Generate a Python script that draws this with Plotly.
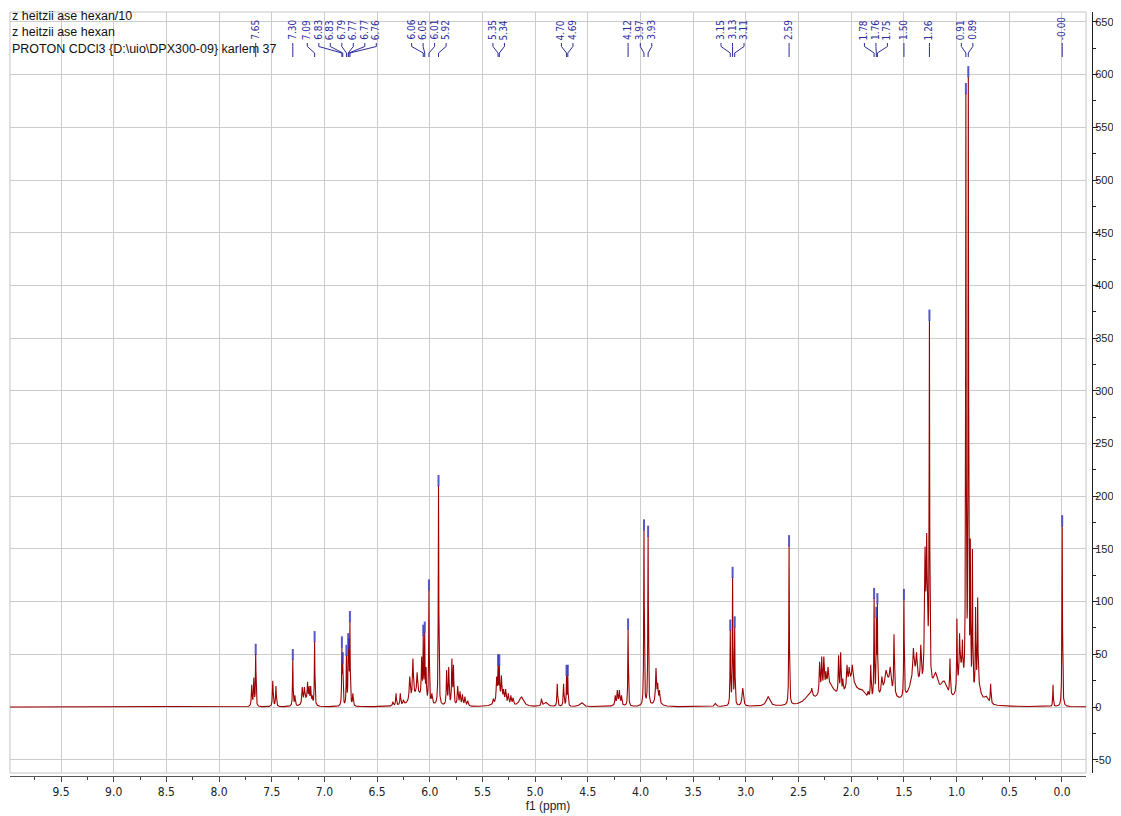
import numpy as np
import plotly.graph_objects as go

# ---------------- data ----------------
title_lines = [
    "z heitzii ase hexan/10",
    "z heitzii ase hexan",
    "PROTON CDCl3 {D:\\uio\\DPX300-09} karlem 37",
]

# sharp lines: position (ppm), apex intensity, half width (ppm)
peak_ppm = [7.690, 7.670, 7.652, 7.490, 7.460, 7.300, 7.280, 7.210, 7.190, 7.160, 7.145, 7.130, 7.115, 7.093,
            6.834, 6.826, 6.791, 6.774, 6.768, 6.758, 6.730,
            6.350, 6.320, 6.280, 6.250, 6.190, 6.160, 6.120, 6.077, 6.062, 6.048, 6.035, 6.008, 5.980, 5.917,
            5.840, 5.820, 5.790, 5.775, 5.735, 5.713, 5.690, 5.666, 5.640,
            5.397, 5.365, 5.352, 5.340, 5.320, 5.300, 5.280, 5.255, 5.230, 5.210,
            4.940, 4.790, 4.730, 4.702, 4.690,
            4.240, 4.220, 4.200, 4.180, 4.118, 3.967, 3.928, 3.853, 3.837, 3.820,
            3.148, 3.126, 3.106, 3.030, 2.590,
            2.375, 2.300, 2.280, 2.260, 2.240, 2.220, 2.155, 2.120, 2.100, 2.080, 2.040, 2.020, 1.990,
            1.840, 1.815, 1.783, 1.762, 1.752, 1.710, 1.670, 1.630, 1.594, 1.500,
            1.410, 1.380, 1.340, 1.300, 1.284, 1.258,
            1.063, 0.997, 0.972, 0.945, 0.912, 0.889, 0.870, 0.850, 0.820, 0.800, 0.677,
            0.085, -0.002]
peak_height = [21, 28, 50, 25, 20, 45, 11, 19, 19, 24, 20, 20, 11, 62,
               57, 42, 49, 60, 55, 81, 13,
               5, 13, 13, 7, 29, 46, 33, 48, 68, 71, 38, 111, 13, 210,
               35, 38, 46, 40, 20, 15, 12, 10, 6,
               8, 29, 40, 40, 30, 17, 17, 13, 11, 9,
               8, 22, 22, 30, 30,
               11, 16, 16, 11, 74, 168, 162, 37, 23, 16,
               73, 123, 76, 18, 153,
               18, 43, 48, 48, 34, 38, 16, 49, 52, 27, 40, 38, 40,
               15, 40, 103, 85, 98, 29, 35, 38, 69, 102,
               56, 52, 59, 152, 165, 367,
               46, 84, 70, 64, 582, 598, 160, 150, 95, 104, 22,
               21, 172]
peak_width = [.004, .004, .003, .004, .004, .003, .004, .005, .005, .004, .004, .004, .004, .003,
              .003, .003, .003, .003, .003, .003, .004,
              .005, .004, .004, .005, .006, .005, .005, .004, .003, .003, .003, .003, .005, .003,
              .004, .004, .004, .004, .005, .005, .005, .005, .006,
              .005, .005, .003, .003, .004, .005, .005, .005, .005, .005,
              .005, .004, .004, .003, .003,
              .004, .004, .004, .004, .003, .003, .003, .005, .004, .004,
              .003, .003, .003, .008, .003,
              .006, .005, .004, .004, .004, .004, .006, .004, .004, .004, .005, .005, .006,
              .006, .004, .003, .003, .003, .006, .008, .008, .004, .003,
              .006, .006, .006, .006, .005, .003,
              .004, .003, .004, .004, .003, .003, .003, .003, .003, .003, .004,
              .003, .003]

# broad humps under the multiplets: position (ppm), amplitude, half width (ppm)
hump_ppm = [7.17, 6.12, 5.33, 5.13, 4.90, 4.56, 4.21, 3.84, 3.29, 2.79, 2.40, 2.22, 2.00, 1.90,
            1.66, 1.40, 1.28, 1.20, 1.12, 0.96, 0.80, 0.72]
hump_amp = [6, 12, 8, 9, 4, 4, 4, 6, 3, 9, 8, 20, 22, 8,
            22, 28, 40, 22, 18, 30, 20, 6]
hump_width = [0.03, 0.06, 0.04, 0.025, 0.02, 0.02, 0.03, 0.03, 0.01, 0.02, 0.05, 0.07, 0.06, 0.04,
              0.05, 0.05, 0.02, 0.03, 0.04, 0.03, 0.03, 0.02]

# annotated peaks (ppm)
label_ppm = [7.652, 7.300, 7.093, 6.834, 6.826, 6.791, 6.774, 6.768, 6.758,
             6.062, 6.048, 6.008, 5.917, 5.352, 5.340, 4.702, 4.690,
             4.118, 3.967, 3.928, 3.148, 3.126, 3.106, 2.590,
             1.783, 1.762, 1.752, 1.500, 1.258, 0.912, 0.889, -0.002]

x_tick_vals = [9.5, 9.0, 8.5, 8.0, 7.5, 7.0, 6.5, 6.0, 5.5, 5.0, 4.5, 4.0, 3.5, 3.0, 2.5, 2.0, 1.5, 1.0, 0.5, 0.0]
x_tick_text = ["9.5", "9.0", "8.5", "8.0", "7.5", "7.0", "6.5", "6.0", "5.5", "5.0", "4.5", "4.0",
               "3.5", "3.0", "2.5", "2.0", "1.5", "1.0", "0.5", "0.0"]
y_tick_vals = [-50, 0, 50, 100, 150, 200, 250, 300, 350, 400, 450, 500, 550, 600, 650]
y_tick_text = ["-50", "0", "50", "100", "150", "200", "250", "300", "350", "400", "450", "500",
               "550", "600", "650"]

X_RANGE = [9.984, -0.228]
Y_RANGE = [-62.6, 659.4]

# ---------------- spectrum from the peak list ----------------
def lor(x, c, w):
    return w ** 2 / ((x - c) ** 2 + w ** 2)

P = np.array(peak_ppm)
T = np.array(peak_height, dtype=float)
W = np.array(peak_width)
HP = np.array(hump_ppm)
HA = np.array(hump_amp, dtype=float)
HW = np.array(hump_width)

bg_at_peaks = (HA[None, :] * lor(P[:, None], HP[None, :], HW[None, :])).sum(axis=1)
M = lor(P[:, None], P[None, :], W[None, :])
np.fill_diagonal(M, 0.0)
amp = np.clip(T - bg_at_peaks, 0, None)
for _ in range(3000):
    new = np.clip(T - bg_at_peaks - M @ amp, 0, None)
    amp = 0.5 * amp + 0.5 * new

xs = np.linspace(X_RANGE[0], X_RANGE[1], 20425)
spec = np.zeros_like(xs)
for c, a, w in zip(P, amp, W):
    spec += a * lor(xs, c, w)
for c, a, w in zip(HP, HA, HW):
    spec += a * lor(xs, c, w)

# ---------------- geometry (page body adds an 8 px offset) ----------------
OFF = 8
FIG_W, FIG_H = 1121 - OFF, 816 - OFF
ML, MR, MT, MB = 10 - OFF, 0, 12 - OFF, 40
PW = FIG_W - ML - MR
PH = FIG_H - MT - MB
X_DOM = [0, 1076 / PW]
Y_DOM = [3 / PH, 1]
px_per_ppm = (X_DOM[1] - X_DOM[0]) * PW / (X_RANGE[0] - X_RANGE[1])


def paper_y(pix):
    return (OFF + FIG_H - MB - pix) / PH


# label spreading (merge overlapping clusters, centre on their peaks)
spacing = 11.5 / px_per_ppm
order = sorted(range(len(label_ppm)), key=lambda i: -label_ppm[i])
clusters = [[i] for i in order]


def positions(cl):
    c = np.mean([label_ppm[i] for i in cl])
    n = len(cl)
    return [c + ((n - 1) / 2 - k) * spacing for k in range(n)]


changed = True
while changed:
    changed = False
    for k in range(len(clusters) - 1):
        a = positions(clusters[k])[-1]
        b = positions(clusters[k + 1])[0]
        if a - b < spacing - 1e-9:
            clusters[k] = clusters[k] + clusters[k + 1]
            del clusters[k + 1]
            changed = True
            break
label_pos = {}
for cl in clusters:
    for i, p in zip(cl, positions(cl)):
        label_pos[i] = p

label_color = "#2b2b9c"
annotations = []
shapes = []
for i, ppm in enumerate(label_ppm):
    lx = label_pos[i]
    annotations.append(dict(
        x=lx, xref="x", y=paper_y(42), yref="paper", text=f"{ppm:.2f}",
        textangle=-90, showarrow=False, xanchor="center", yanchor="bottom",
        font=dict(family="Liberation Sans Narrow, DejaVu Sans Condensed, Liberation Sans", size=10,
                  color=label_color)))
    shapes.append(dict(
        type="path", xref="x", yref="paper",
        path=(f"M {lx},{paper_y(43)} L {lx},{paper_y(46.5)} "
              f"L {ppm},{paper_y(53)} L {ppm},{paper_y(57)}"),
        line=dict(color=label_color, width=1)))

for k, line in enumerate(title_lines):
    annotations.append(dict(
        x=0, xref="paper", y=paper_y(16 + 16.5 * k), yref="paper", text=line,
        showarrow=False, xanchor="left", yanchor="middle",
        font=dict(family="Liberation Sans, Arial", size=12.5, color="#111111")))

shapes.append(dict(type="rect", xref="paper", yref="paper", x0=X_DOM[0], x1=X_DOM[1],
                   y0=Y_DOM[0], y1=Y_DOM[1], line=dict(color="#c4c4c4", width=1), layer="below"))

px_per_unit = PH * (Y_DOM[1] - Y_DOM[0]) / (Y_RANGE[1] - Y_RANGE[0])
marker_y = np.interp(label_ppm, xs[::-1], spec[::-1]) + 5.0 / px_per_unit

fig = go.Figure()
fig.add_trace(go.Scatter(x=xs, y=spec, mode="lines", line=dict(color="#9c0000", width=1.1),
                         hoverinfo="skip", showlegend=False))
fig.add_trace(go.Scatter(x=label_ppm, y=marker_y, mode="markers", hoverinfo="skip", showlegend=False,
                         marker=dict(symbol="line-ns", size=8,
                                     line=dict(color="rgba(45,45,185,0.8)", width=2))))

fig.update_layout(
    width=FIG_W, height=FIG_H,
    margin=dict(l=ML, r=MR, t=MT, b=MB),
    paper_bgcolor="white", plot_bgcolor="white",
    annotations=annotations, shapes=shapes,
    xaxis=dict(domain=X_DOM, range=X_RANGE, anchor="free", position=0,
               tickmode="array", tickvals=x_tick_vals, ticktext=x_tick_text,
               ticks="outside", ticklen=5, tickcolor="#444444",
               minor=dict(tickmode="linear", tick0=0, dtick=0.25, ticks="outside", ticklen=3,
                          tickcolor="#444444", showgrid=False),
               showgrid=True, gridcolor="#cccccc", gridwidth=1, zeroline=False,
               showline=True, linecolor="#555555", linewidth=1,
               tickfont=dict(family="Liberation Sans Narrow, DejaVu Sans Condensed, Liberation Sans",
                             size=12, color="#222222"),
               title=dict(text="f1 (ppm)", standoff=0,
                          font=dict(family="Liberation Sans, Arial", size=12, color="#222222"))),
    yaxis=dict(domain=Y_DOM, range=Y_RANGE, anchor="free", position=1082 / PW, side="right",
               tickmode="array", tickvals=y_tick_vals, ticktext=y_tick_text,
               ticks="outside", ticklen=5, tickcolor="#222222", ticklabelstandoff=-5,
               minor=dict(tickmode="linear", tick0=0, dtick=25, ticks="outside", ticklen=3,
                          tickcolor="#222222", showgrid=False),
               showgrid=True, gridcolor="#cccccc", gridwidth=1, zeroline=False,
               showline=True, linecolor="#222222", linewidth=1,
               tickfont=dict(family="Liberation Sans, Arial", size=11, color="#222222")),
)

fig.write_html("out.html", config={"displayModeBar": False})
